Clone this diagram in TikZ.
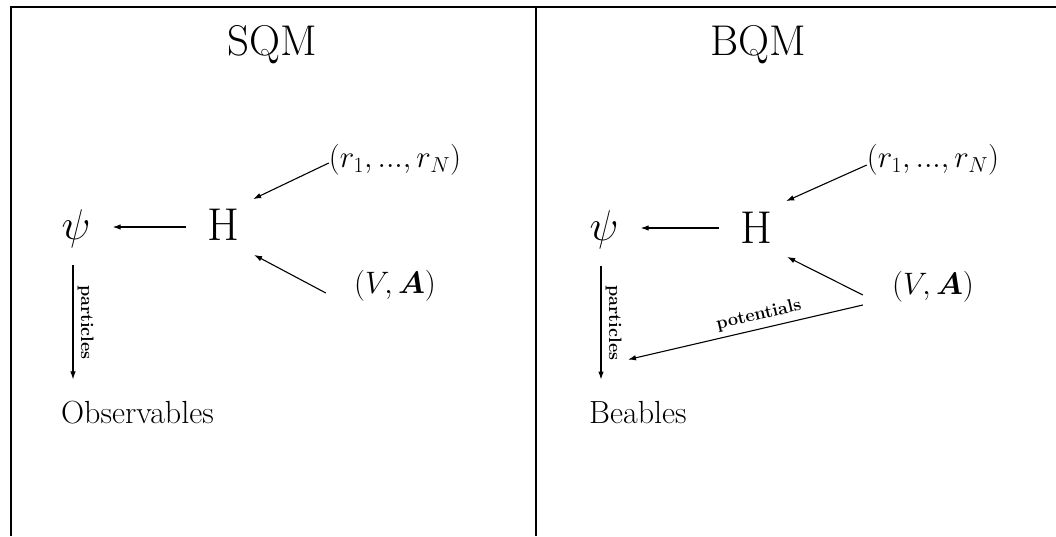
\documentclass[tikz,border=0pt]{standalone}
\usepackage{fix-cm}
\usepackage{amsmath}
\usetikzlibrary{arrows.meta,calc}
\tikzset{
  big/.style={font=\fontsize{43}{50}\selectfont, inner sep=0pt},
  hbig/.style={font=\fontsize{46}{54}\selectfont, inner sep=0pt},
  mid/.style={font=\fontsize{32}{38}\selectfont, inner sep=0pt},
  lbl/.style={font=\fontsize{18}{21}\selectfont\bfseries, inner sep=4pt},
  arr/.style={line width=1.1pt, -{Latex[length=8pt,width=5.5pt]}},
  framel/.style={line width=1.8pt}
}
\begin{document}
\begin{tikzpicture}[x=1pt,y=-1pt]
\useasboundingbox (0,0) rectangle (1056,536);
% frame
\draw[framel] (11,536) -- (11,7) -- (1056,7);
\draw[framel] (536,7) -- (536,536);

% ---------- SQM ----------
\node[big] (sqm) at (272,45) {SQM};
\node[big] (psiL) at (76,229) {$\psi$};
\node[hbig] (HL) at (223,225) {H};
\node[mid, font=\fontsize{31}{37}\selectfont] (rL) at (395,160) {$(r_1,...,r_N)$};
\node[mid, font=\fontsize{31}{37}\selectfont] (vaL) at (395,286) {$(V,\boldsymbol{A})$};
\node[mid, anchor=base west] (obsL) at (61,423) {Observables};

\draw[arr] ($(HL.west)+(-21,2)$) -- ($(psiL.east)+(22,-2)$);
\draw[arr] ($(rL.west)+(0,3)$) -- ($(HL.north east)+(14,-10)$);
\draw[arr] ($(vaL.west)+(-28,7)$) -- ($(HL.south east)+(15,14)$);
\draw[arr] ($(psiL.south)+(-3,17)$) -- ($(obsL.north west)+(12,-21)$)
  node[midway, lbl, rotate=-90, anchor=south] {particles};

% ---------- BQM ----------
\node[big] (bqm) at (758,45) {BQM};
\node[big] (psiR) at (604,230) {$\psi$};
\node[hbig] (HR) at (756,228) {H};
\node[mid, font=\fontsize{31}{37}\selectfont] (rR) at (933,160) {$(r_1,...,r_N)$};
\node[mid, font=\fontsize{31}{37}\selectfont] (vaR) at (933,287) {$(V,\boldsymbol{A})$};
\node[mid, anchor=base west] (beR) at (589,423) {Beables};

\draw[arr] ($(HR.west)+(-21,0)$) -- ($(psiR.east)+(22,-2)$);
\draw[arr] ($(rR.west)+(0,5)$) -- ($(HR.north east)+(14,-11)$);
\draw[arr] ($(vaR.west)+(-29,8)$) -- ($(HR.south east)+(15,13)$);
\draw[arr] ($(vaR.west)+(-29,18)$) -- ($(beR.north west)+(39,-41)$)
  node[pos=0.43, sloped, above, lbl, inner sep=5pt] {potentials};
\draw[arr] ($(psiR.south)+(-3,17)$) -- ($(beR.north west)+(12,-21)$)
  node[midway, lbl, rotate=-90, anchor=south] {particles};
\end{tikzpicture}
\end{document}
